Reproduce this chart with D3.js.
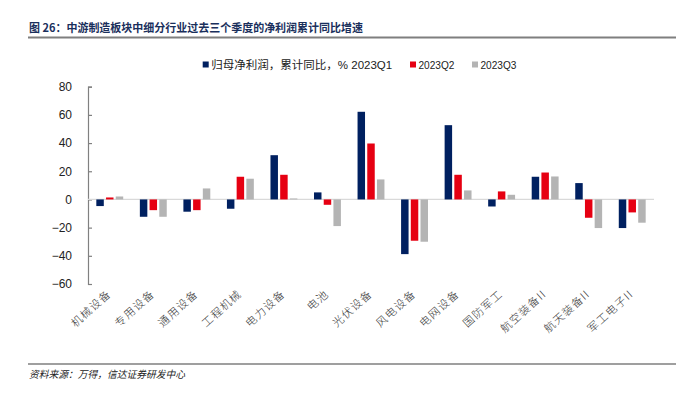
<!DOCTYPE html>
<html>
<head>
<meta charset="utf-8">
<script src="https://cdn.jsdelivr.net/npm/d3@7/dist/d3.min.js"></script>
<style>
  html, body { margin: 0; padding: 0; background: #fff; }
  svg { display: block; }
  text { font-family: "Liberation Sans", Arial, "Noto Sans CJK SC", sans-serif; }
</style>
</head>
<body>
<svg id="chart" width="689" height="398"></svg>
<script>
const categories = ["机械设备","专用设备","通用设备","工程机械","电力设备","电池","光伏设备","风电设备","电网设备","国防军工","航空装备II","航天装备II","军工电子II"];
const seriesNames = ["归母净利润，累计同比，% 2023Q1","2023Q2","2023Q3"];
const q1 = [-4.7, -12.3, -8.7, -6.6, 31.4, 5.0, 62.2, -38.8, 52.7, -5.0, 16.1, 11.6, -20.3];
const q2 = [1.4, -7.6, -7.6, 16.1, 17.5, -3.8, 39.7, -29.3, 17.5, 5.7, 19.1, -13.0, -9.2];
const q3 = [2.1, -12.3, 7.8, 14.7, 0.7, -18.9, 14.2, -30.0, 6.4, 3.3, 16.3, -20.3, -16.5];
const yTicks = [80, 60, 40, 20, 0, -20, -40, -60];
const colors = ["#002060", "#e60012", "#b4b4b4"];
const title = "图 26：中游制造板块中细分行业过去三个季度的净利润累计同比增速";
const source = "资料来源：万得，信达证券研发中心";

const svg = d3.select("#chart");
const values = [q1, q2, q3];

const x0 = d3.scaleBand().domain(categories).range([88, 654]).paddingInner(0).paddingOuter(0);
const x1 = d3.scaleBand().domain([0,1,2]).range([-13.45, 13.45]).paddingInner(0.23).paddingOuter(0);
const y = d3.scaleLinear().domain([-60, 80]).range([284, 86.7]);

// Title
svg.append("text")
  .attr("x", 29).attr("y", 32)
  .attr("font-size", 11.5).attr("font-weight", "bold").attr("fill", "#1a2f5c")
  .attr("textLength", 334).attr("lengthAdjust", "spacingAndGlyphs")
  .style("font-family", "'Noto Sans CJK SC', sans-serif")
  .text(title);
svg.append("line").attr("x1", 28).attr("x2", 676).attr("y1", 37.5).attr("y2", 37.5)
  .attr("stroke", "#7f7f7f").attr("stroke-width", 2);

// Footer
svg.append("line").attr("x1", 28).attr("x2", 676).attr("y1", 364).attr("y2", 364)
  .attr("stroke", "#404040").attr("stroke-width", 1.2);
svg.append("text")
  .attr("x", 29).attr("y", 378)
  .attr("font-size", 10).attr("font-style", "italic").attr("fill", "#222")
  .attr("textLength", 156).attr("lengthAdjust", "spacingAndGlyphs")
  .style("font-family", "'Noto Sans CJK SC', sans-serif")
  .text(source);

// Legend
const legendX = [202.7, 410, 472];
const legendW = [181, 36, 36];
const lg = svg.append("g");
seriesNames.forEach((s, i) => {
  lg.append("rect").attr("x", legendX[i]).attr("y", 61.5).attr("width", 6).attr("height", 6).attr("fill", colors[i]);
  lg.append("text").attr("x", legendX[i] + 8.5).attr("y", 69)
    .attr("font-size", 11).attr("fill", "#222")
    .attr("textLength", legendW[i]).attr("lengthAdjust", "spacingAndGlyphs")
    .text(s);
});

// Y axis
const yAxis = d3.axisRight(y).tickValues(yTicks).tickSize(4).tickFormat(d => d < 0 ? "\u2212" + Math.abs(d) : d);
const ya = svg.append("g").attr("transform", "translate(88,0)").call(yAxis);
ya.select(".domain").attr("stroke", "#808080").attr("stroke-width", 1.2);
ya.selectAll(".tick line").attr("stroke", "#808080").attr("stroke-width", 1.2);
ya.selectAll(".tick text").attr("x", -16).attr("text-anchor", "end").attr("font-size", 12).attr("fill", "#222")
  .style("font-family", "'Liberation Sans', Arial, sans-serif");

// Zero line
svg.append("line").attr("x1", 88).attr("x2", 654).attr("y1", y(0)).attr("y2", y(0))
  .attr("stroke", "#d9d9d9").attr("stroke-width", 1.2);

// Bars
const gBars = svg.append("g");
categories.forEach((c, ci) => {
  const cx = x0(c) + x0.bandwidth() / 2;
  values.forEach((arr, si) => {
    const v = arr[ci];
    gBars.append("rect")
      .attr("x", cx + x1(si))
      .attr("width", x1.bandwidth())
      .attr("y", y(Math.max(0, v)))
      .attr("height", Math.abs(y(v) - y(0)))
      .attr("fill", colors[si]);
  });
});

// X labels
const xl = svg.append("g");
categories.forEach(c => {
  const cx = x0(c) + x0.bandwidth() / 2;
  xl.append("text")
    .attr("transform", `translate(${cx + 2},${295}) rotate(-42)`)
    .attr("text-anchor", "end")
    .attr("font-size", 11).attr("fill", "#333")
    .attr("letter-spacing", 1.2)
    .style("font-family", "'Noto Sans CJK SC', sans-serif")
    .style("font-weight", 300)
    .text(c);
});
</script>
</body>
</html>
